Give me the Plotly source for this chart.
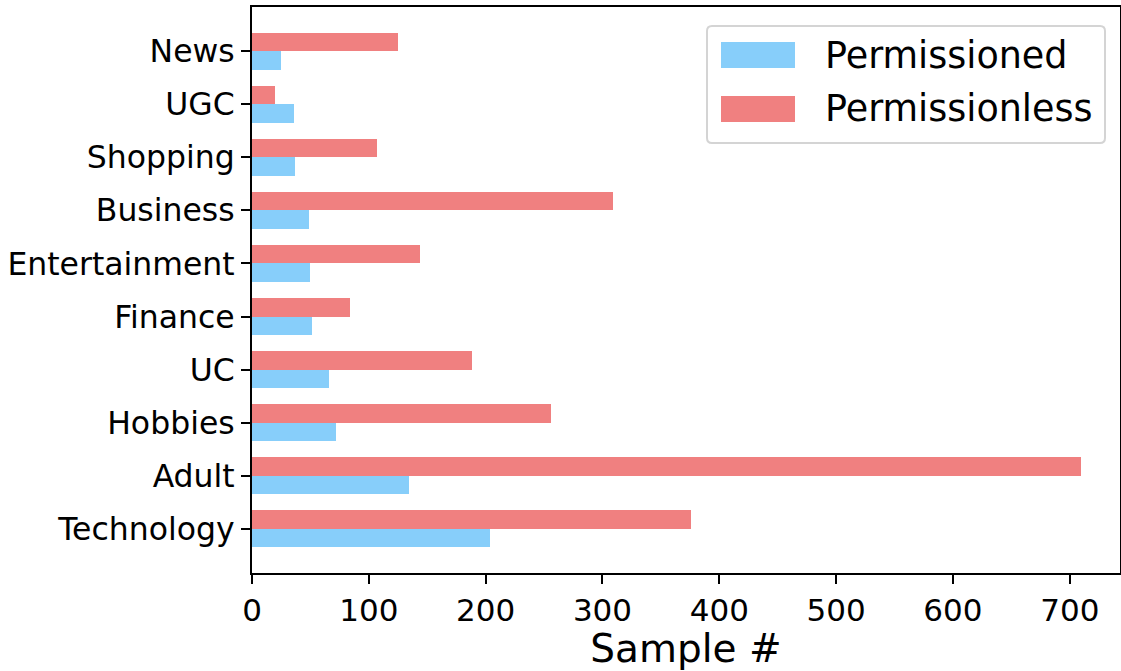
import plotly.graph_objects as go

categories = ["Technology", "Adult", "Hobbies", "UC", "Finance",
              "Entertainment", "Business", "Shopping", "UGC", "News"]
permissioned = [204, 134, 72, 66, 51, 50, 49, 37, 36, 25]
permissionless = [376, 710, 256, 188, 84, 144, 309, 107, 20, 125]
x_ticks = [0, 100, 200, 300, 400, 500, 600, 700]
series_names = ["Permissioned", "Permissionless"]

BLUE = "#87CEFA"
RED = "#F08080"
FONT = "DejaVu Sans"
bar_h = 0.35

pos = list(range(len(categories)))

fig = go.Figure()
fig.add_trace(go.Bar(
    y=[p - bar_h / 2 for p in pos], x=permissioned, orientation="h",
    width=bar_h, marker=dict(color=BLUE, line=dict(width=0)),
    name=series_names[0], showlegend=False))
fig.add_trace(go.Bar(
    y=[p + bar_h / 2 for p in pos], x=permissionless, orientation="h",
    width=bar_h, marker=dict(color=RED, line=dict(width=0)),
    name=series_names[1], showlegend=False))

W, H = 1121, 671
L, R, T, B = 252, 1, 7, 98
pw, ph = W - L - R, H - T - B


def px(x):
    return (x - L) / pw


def py(y):
    return (H - B - y) / ph


# manual legend (matplotlib-style)
x0, x1, y0, y1 = px(707), px(1105), py(143), py(26)
rx, ry = 5 / pw, 5 / ph
path = (f"M {x0+rx},{y0} L {x1-rx},{y0} Q {x1},{y0} {x1},{y0+ry} "
        f"L {x1},{y1-ry} Q {x1},{y1} {x1-rx},{y1} L {x0+rx},{y1} "
        f"Q {x0},{y1} {x0},{y1-ry} L {x0},{y0+ry} Q {x0},{y0} {x0+rx},{y0} Z")
shapes = [dict(type="path", xref="paper", yref="paper", path=path,
               line=dict(color="#D4D4D4", width=2), fillcolor="rgba(255,255,255,0.8)",
               layer="above")]
annotations = []
for i, (name, col) in enumerate(zip(series_names, [BLUE, RED])):
    top = 42 + i * 54
    shapes.append(dict(type="rect", xref="paper", yref="paper",
                       x0=px(721), x1=px(795), y0=py(top + 26), y1=py(top),
                       fillcolor=col, line=dict(width=0), layer="above"))
    annotations.append(dict(xref="paper", yref="paper", x=px(823), y=py(top + 13),
                            text=name, showarrow=False, xanchor="left",
                            yanchor="middle", font=dict(family=FONT, size=36.5, color="black")))

fig.update_layout(
    width=W, height=H,
    margin=dict(l=L, r=R, t=T, b=B),
    paper_bgcolor="white", plot_bgcolor="white",
    barmode="overlay", bargap=0,
    shapes=shapes, annotations=annotations,
    font=dict(family=FONT, size=30, color="black"),
    xaxis=dict(range=[0, 743], tickvals=x_ticks, ticktext=[str(v) for v in x_ticks],
               showgrid=False, zeroline=False, showline=True, linecolor="black",
               linewidth=2, mirror=True, ticks="outside", ticklen=9, tickwidth=2,
               tickcolor="black", tickfont=dict(family=FONT, size=31), automargin=False,
               title=dict(text="Sample #", font=dict(family=FONT, size=39), standoff=6)),
    yaxis=dict(range=[-0.835, 9.835], tickvals=pos, ticktext=categories,
               showgrid=False, zeroline=False, showline=True, linecolor="black",
               linewidth=2, mirror=True, ticks="outside", ticklen=9, tickwidth=2,
               tickcolor="black", tickfont=dict(family=FONT, size=31.5), automargin=False),
)

fig.write_html("out.html", config={"displayModeBar": False},
               post_script="document.body.style.margin='0';document.body.style.padding='0';")
